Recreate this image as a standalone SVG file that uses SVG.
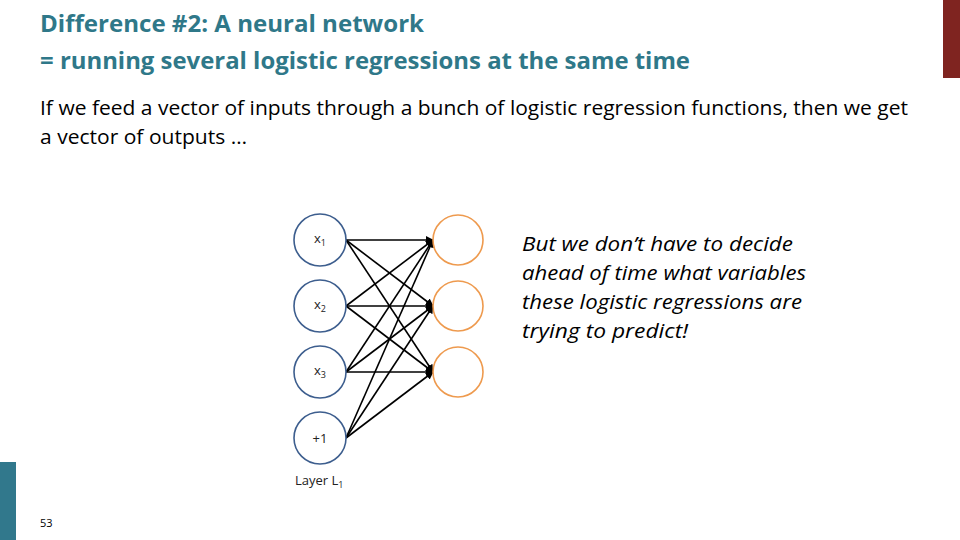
<svg xmlns="http://www.w3.org/2000/svg" width="960" height="540" viewBox="0 0 960 540">
<defs>
<style>
.title{font-family:"Open Sans","Liberation Sans",sans-serif;font-weight:bold;font-size:24px;fill:#2F7889}
.body{font-family:"Open Sans","Liberation Sans",sans-serif;font-size:20px;fill:#000}
.ital{font-family:"Open Sans","Liberation Sans",sans-serif;font-style:italic;font-size:20px;fill:#000}
.in{fill:#fff;stroke:#3D5E8E;stroke-width:1.6}
.out{fill:#fff;stroke:#EE9A4E;stroke-width:1.6}
.lbl{font-family:"Open Sans","Liberation Sans",sans-serif;font-size:13px;fill:#222}
.sub{font-size:9px}
.edge{stroke:#000;stroke-width:1.6;fill:none;marker-end:url(#ah)}
</style>
<marker id="ah" viewBox="0 0 10 10" refX="9" refY="5" markerWidth="5" markerHeight="5" orient="auto" markerUnits="strokeWidth">
<path d="M0,0 L10,5 L0,10 z" fill="#000"/>
</marker>
</defs>
<rect width="960" height="540" fill="#fff"/>
<rect x="943" y="0" width="17" height="78" fill="#7F2420"/>
<rect x="0" y="462" width="16" height="78" fill="#31788C"/>
<text class="title" x="40" y="32" textLength="384" lengthAdjust="spacingAndGlyphs">Difference #2: A neural network</text>
<text class="title" x="40" y="69" textLength="650" lengthAdjust="spacingAndGlyphs">= running several logistic regressions at the same time</text>
<text class="body" x="40" y="115" textLength="868" lengthAdjust="spacingAndGlyphs">If we feed a vector of inputs through a bunch of logistic regression functions, then we get</text>
<text class="body" x="40" y="144" textLength="207" lengthAdjust="spacingAndGlyphs">a vector of outputs …</text>
<g id="note">
<text class="ital" x="522" y="251" textLength="271" lengthAdjust="spacingAndGlyphs">But we don’t have to decide</text>
<text class="ital" x="522" y="280" textLength="284" lengthAdjust="spacingAndGlyphs">ahead of time what variables</text>
<text class="ital" x="522" y="309" textLength="280" lengthAdjust="spacingAndGlyphs">these logistic regressions are</text>
<text class="ital" x="522" y="338" textLength="166" lengthAdjust="spacingAndGlyphs">trying to predict!</text>
</g>
<g id="connectors">
<line class="edge" x1="346" y1="240" x2="433" y2="240"/>
<line class="edge" x1="346" y1="240" x2="433" y2="306"/>
<line class="edge" x1="346" y1="240" x2="433" y2="372"/>
<line class="edge" x1="346" y1="306" x2="433" y2="240"/>
<line class="edge" x1="346" y1="306" x2="433" y2="306"/>
<line class="edge" x1="346" y1="306" x2="433" y2="372"/>
<line class="edge" x1="346" y1="372" x2="433" y2="240"/>
<line class="edge" x1="346" y1="372" x2="433" y2="306"/>
<line class="edge" x1="346" y1="372" x2="433" y2="372"/>
<line class="edge" x1="346" y1="438" x2="433" y2="240"/>
<line class="edge" x1="346" y1="438" x2="433" y2="306"/>
<line class="edge" x1="346" y1="438" x2="433" y2="372"/>
</g>
<g id="x1"><circle class="in" cx="320" cy="240" r="26"/><text class="lbl" x="314" y="243">x<tspan class="sub" dy="3">1</tspan></text></g>
<g id="x2"><circle class="in" cx="320" cy="306" r="26"/><text class="lbl" x="314" y="309">x<tspan class="sub" dy="3">2</tspan></text></g>
<g id="x3"><circle class="in" cx="320" cy="372" r="26"/><text class="lbl" x="314" y="375">x<tspan class="sub" dy="3">3</tspan></text></g>
<g id="bias"><circle class="in" cx="320" cy="438" r="26"/><text class="lbl" x="320" y="443" text-anchor="middle">+1</text></g>
<g id="h1"><circle class="out" cx="458" cy="240" r="25"/></g>
<g id="h2"><circle class="out" cx="458" cy="306" r="25"/></g>
<g id="h3"><circle class="out" cx="458" cy="372" r="25"/></g>
<g id="layer-label"><text class="lbl" x="295" y="485">Layer L<tspan class="sub" dy="3">1</tspan></text></g>
<text x="40" y="527" font-family="Open Sans, sans-serif" font-size="11" fill="#000">53</text>
</svg>
